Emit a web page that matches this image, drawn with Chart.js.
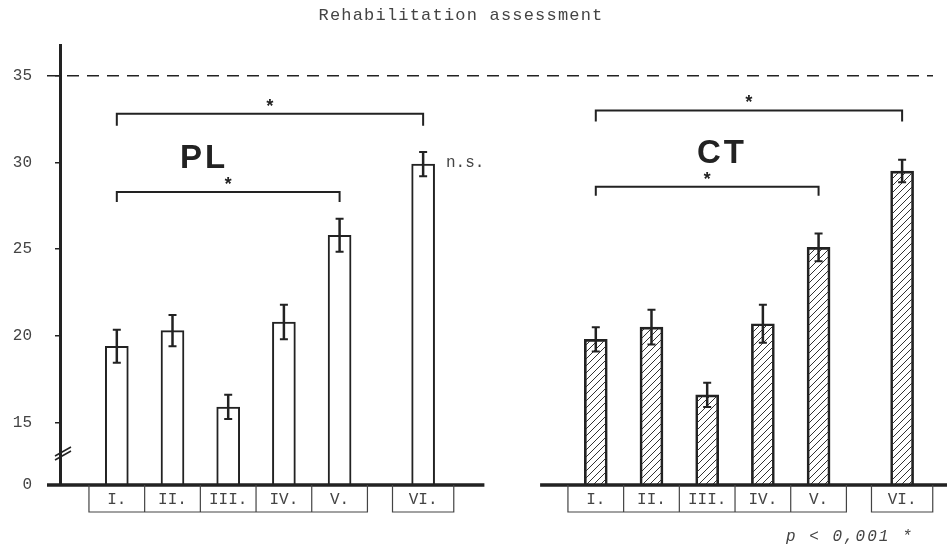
<!DOCTYPE html>
<html>
<head>
<meta charset="utf-8">
<title>Rehabilitation assessment</title>
<script src="https://cdn.jsdelivr.net/npm/chart.js@4.4.1/dist/chart.umd.min.js"></script>
<style>
  html, body { margin: 0; padding: 0; background: #fff; }
</style>
</head>
<body>
<canvas id="rehabChart" width="951" height="550"></canvas>
<script>
// values
const categories = ["I.", "II.", "III.", "IV.", "V.", "VI."]
const plMeans = [19.4, 20.3, 15.9, 20.8, 25.8, 29.9]
const plErrors = [0.95, 0.9, 0.7, 1.0, 0.95, 0.7]
const ctMeans = [19.8, 20.5, 16.6, 20.7, 25.1, 29.5]
const ctErrors = [0.7, 1.0, 0.7, 1.1, 0.8, 0.65]
const yTickValues = [0, 15, 20, 25, 30, 35]
const referenceLevel = 35

// broken axis: the "0" tick sits where the scale is cut
const axisCut = 11.4
const INK = "#222"
const TEXT = "#444"
const MONO = "'Liberation Mono', 'DejaVu Sans Mono', monospace"

// slot layout: VI stands a bit apart, CT panel shifted right
const slotOf = (i) => (i < 5 ? i : 5.5)
const ctShift = 8.6

function makeHatch() {
  const c = document.createElement("canvas")
  c.width = 7
  c.height = 7
  const g = c.getContext("2d")
  g.strokeStyle = "#333"
  g.lineWidth = 1
  g.beginPath()
  g.moveTo(0, 7); g.lineTo(7, 0)
  g.moveTo(-1, 1); g.lineTo(1, -1)
  g.moveTo(6, 8); g.lineTo(8, 6)
  g.stroke()
  return g.createPattern(c, "repeat")
}

const decor = {
  id: "decor",
  afterDatasetsDraw(chart) {
    const { ctx, scales: { y } } = chart
    ctx.save()
    ctx.strokeStyle = INK
    chart.data.datasets.forEach((ds, di) => {
      const meta = chart.getDatasetMeta(di)
      meta.data.forEach((bar, i) => {
        const v = ds.data[i].y
        const e = ds.errors[i]
        const t = y.getPixelForValue(v + e)
        const b = y.getPixelForValue(v - e)
        ctx.lineWidth = 2.5
        ctx.beginPath()
        ctx.moveTo(bar.x, t); ctx.lineTo(bar.x, b)
        ctx.stroke()
        ctx.lineWidth = 2
        ctx.beginPath()
        ctx.moveTo(bar.x - 4, t); ctx.lineTo(bar.x + 4, t)
        ctx.moveTo(bar.x - 4, b); ctx.lineTo(bar.x + 4, b)
        ctx.stroke()
      })
    })
    ctx.restore()
  },
  afterDraw(chart) {
    const { ctx, chartArea, scales: { x, y } } = chart
    const base = chartArea.bottom
    const px = (s) => x.getPixelForValue(s)
    const half = (x.getPixelForValue(1) - x.getPixelForValue(0)) / 2
    ctx.save()

    // dashed reference line at 35
    const yRef = y.getPixelForValue(referenceLevel)
    ctx.strokeStyle = INK
    ctx.lineWidth = 1.5
    ctx.setLineDash([12, 8])
    ctx.beginPath()
    ctx.moveTo(47, yRef); ctx.lineTo(933, yRef)
    ctx.stroke()
    ctx.setLineDash([])

    // axis break marks
    ctx.lineWidth = 1.5
    ctx.beginPath()
    ctx.moveTo(55, 456); ctx.lineTo(71, 447)
    ctx.moveTo(55, 460); ctx.lineTo(71, 451)
    ctx.stroke()

    // baselines of both panels
    ctx.lineWidth = 3.5
    ctx.beginPath()
    ctx.moveTo(47, base); ctx.lineTo(px(6.6), base)
    ctx.moveTo(px(ctShift - 1), base); ctx.lineTo(947, base)
    ctx.stroke()

    // category boxes under each panel
    const boxBottom = base + 27
    ctx.lineWidth = 1.2
    ctx.strokeStyle = TEXT
    ctx.fillStyle = TEXT
    ctx.font = "16px " + MONO
    ctx.textAlign = "center"
    ctx.textBaseline = "middle"
    ;[0, ctShift].forEach((shift) => {
      const l = px(shift - 0.5)
      const r = px(shift + 4.5)
      ctx.beginPath()
      ctx.moveTo(l, base); ctx.lineTo(l, boxBottom); ctx.lineTo(r, boxBottom); ctx.lineTo(r, base)
      for (let i = 1; i < 5; i++) {
        ctx.moveTo(px(shift + i - 0.5), base); ctx.lineTo(px(shift + i - 0.5), boxBottom)
      }
      const l6 = px(shift + 5.5) - half * 1.1
      const r6 = px(shift + 5.5) + half * 1.1
      ctx.moveTo(l6, base); ctx.lineTo(l6, boxBottom); ctx.lineTo(r6, boxBottom); ctx.lineTo(r6, base)
      ctx.stroke()
      categories.forEach((c, i) => {
        ctx.fillText(c, px(shift + slotOf(i)), base + 15)
      })
    })

    // significance brackets
    ctx.strokeStyle = INK
    ctx.fillStyle = INK
    ctx.lineWidth = 2
    const bracket = (s1, s2, level, leg) => {
      const x1 = px(s1), x2 = px(s2), yy = y.getPixelForValue(level)
      ctx.beginPath()
      ctx.moveTo(x1, yy + leg); ctx.lineTo(x1, yy); ctx.lineTo(x2, yy); ctx.lineTo(x2, yy + leg)
      ctx.stroke()
      ctx.font = "bold 18px " + MONO
      ctx.textBaseline = "alphabetic"
      ctx.fillText("*", (x1 + x2) / 2, yy - 2)
    }
    bracket(0, 5.5, 32.8, 12)
    bracket(0, 4, 28.3, 10)
    bracket(ctShift, ctShift + 5.5, 33.0, 11)
    bracket(ctShift, ctShift + 4, 28.6, 9)

    // panel names
    ctx.font = "bold 33px 'Liberation Sans', Arial, sans-serif"
    ctx.textAlign = "center"
    ctx.letterSpacing = "3px"
    ctx.fillText("PL", 204, 168)
    ctx.fillText("CT", 722, 163)
    ctx.letterSpacing = "0px"

    // other texts
    ctx.fillStyle = TEXT
    ctx.font = "16px " + MONO
    ctx.textAlign = "left"
    ctx.fillText("n.s.", 446, 167)
    ctx.font = "17px " + MONO
    ctx.letterSpacing = "1.2px"
    ctx.textAlign = "center"
    ctx.fillText("Rehabilitation assessment", 461, 20)
    ctx.font = "italic 16px " + MONO
    ctx.letterSpacing = "2px"
    ctx.textAlign = "left"
    ctx.fillText("p < 0,001 *", 786, 541)
    ctx.restore()
  },
}

const hatch = makeHatch()

new Chart(document.getElementById("rehabChart"), {
  type: "bar",
  data: {
    datasets: [
      {
        label: "PL",
        data: plMeans.map((v, i) => ({ x: slotOf(i), y: v })),
        errors: plErrors,
        backgroundColor: "#fff",
        borderColor: INK,
        borderWidth: 2,
        barThickness: 23,
        grouped: false,
        base: axisCut,
      },
      {
        label: "CT",
        data: ctMeans.map((v, i) => ({ x: ctShift + slotOf(i), y: v })),
        errors: ctErrors,
        backgroundColor: hatch,
        borderColor: INK,
        borderWidth: 2,
        barThickness: 23,
        grouped: false,
        base: axisCut,
      },
    ],
  },
  options: {
    responsive: false,
    animation: false,
    layout: {
      padding: { top: 45, bottom: 65, right: 6, left: 0 },
    },
    plugins: {
      legend: { display: false },
      tooltip: { enabled: false },
    },
    scales: {
      x: {
        type: "linear",
        display: false,
        offset: false,
        min: -1.02,
        max: 14.87,
      },
      y: {
        min: axisCut,
        max: 36.77,
        afterFit(scale) {
          scale.width = 60
        },
        afterBuildTicks(scale) {
          scale.ticks = yTickValues.map((v) => ({ value: v === 0 ? axisCut : v }))
        },
        ticks: {
          padding: 23,
          color: TEXT,
          font: { family: MONO, size: 16 },
          callback: (v) => (v === axisCut ? "0" : v),
        },
        grid: {
          drawOnChartArea: false,
          drawTicks: true,
          tickLength: 5,
          color: INK,
          lineWidth: 1.5,
        },
        border: { display: true, color: INK, width: 3 },
      },
    },
  },
  plugins: [decor],
})
</script>
</body>
</html>
